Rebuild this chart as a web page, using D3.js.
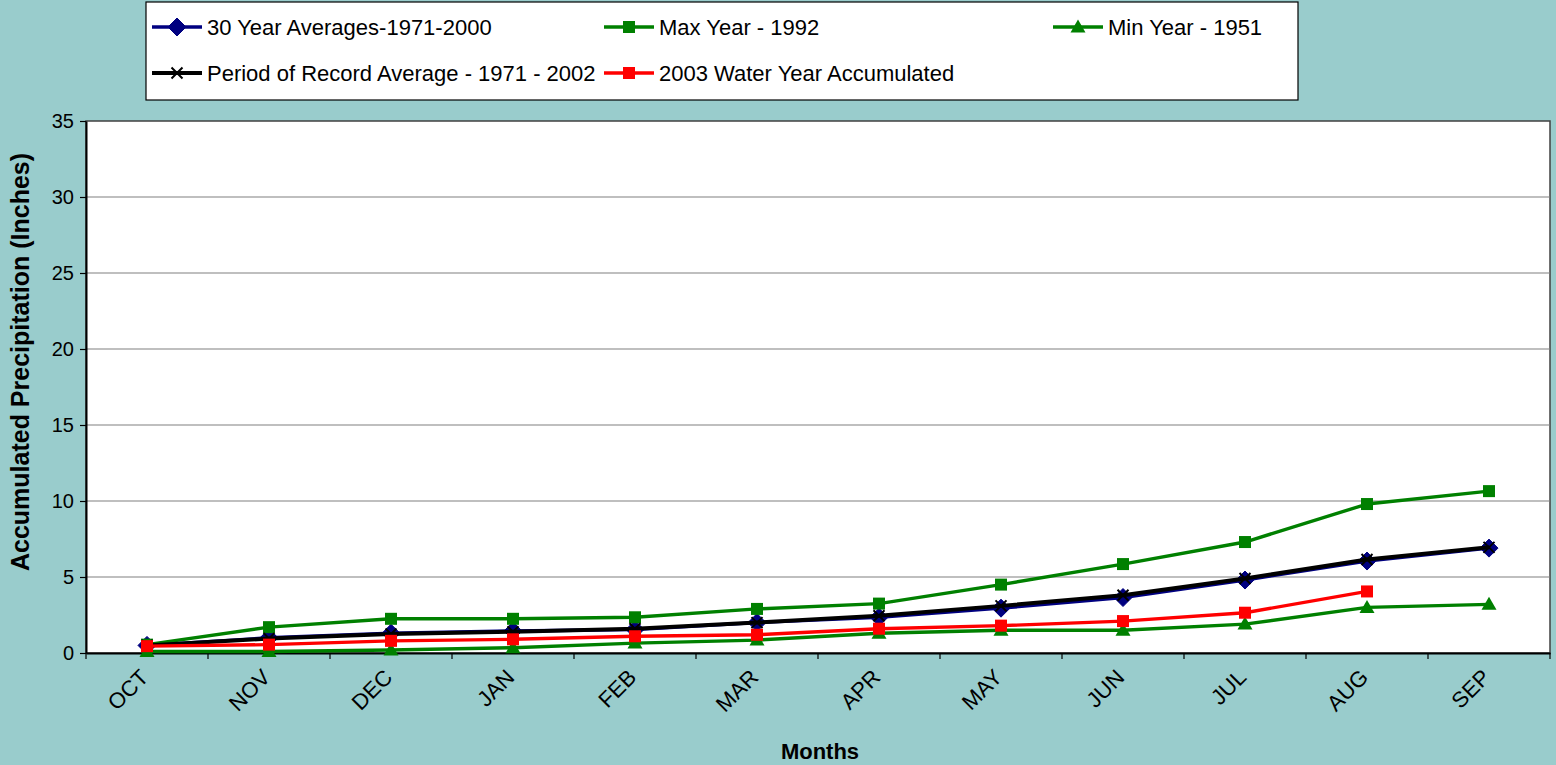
<!DOCTYPE html>
<html><head><meta charset="utf-8">
<script src="https://cdn.jsdelivr.net/npm/d3@7"></script>
<style>body{margin:0;background:#99CCCC;}svg{display:block;font-family:Arial,"Liberation Sans",sans-serif;}</style>
</head><body><svg id="c" width="1556" height="765"></svg>
<script>
const months = ["OCT","NOV","DEC","JAN","FEB","MAR","APR","MAY","JUN","JUL","AUG","SEP"];
const avg30 = [0.5,1.0,1.3,1.45,1.55,2.0,2.35,2.95,3.65,4.8,6.05,6.9];
const max1992 = [0.55,1.7,2.25,2.25,2.35,2.9,3.25,4.5,5.85,7.3,9.8,10.65];
const min1951 = [0.1,0.1,0.2,0.35,0.65,0.85,1.3,1.5,1.5,1.9,3.0,3.2];
const porAvg = [0.5,0.95,1.25,1.4,1.6,2.0,2.45,3.1,3.8,4.9,6.15,6.95];
const wy2003 = [0.45,0.55,0.8,0.9,1.1,1.2,1.6,1.8,2.1,2.65,4.05];
const yTicks = [0,5,10,15,20,25,30,35];

const series = [
  {name:"30 Year Averages-1971-2000", values:avg30, color:"#000080", width:3.4, marker:"diamond"},
  {name:"Max Year - 1992", values:max1992, color:"#008000", width:3.4, marker:"square"},
  {name:"Min Year - 1951", values:min1951, color:"#008000", width:3.4, marker:"triangle"},
  {name:"Period of Record Average - 1971 - 2002", values:porAvg, color:"#000000", width:4, marker:"cross"},
  {name:"2003 Water Year Accumulated", values:wy2003, color:"#FF0000", width:3.4, marker:"square"}
];

const svg = d3.select("#c");
const L=86, T=121, R=1550, B=653;
const x = d3.scaleBand().domain(months).range([L,R]);
const y = d3.scaleLinear().domain([0,35]).range([B,T]);

svg.append("rect").attr("x",L).attr("y",T).attr("width",R-L).attr("height",B-T)
  .attr("fill","#fff").attr("stroke","#404040").attr("stroke-width",1.5);

svg.append("g").selectAll("line").data(yTicks.filter(d=>d>0&&d<35)).join("line")
  .attr("x1",L).attr("x2",R).attr("y1",d=>y(d)).attr("y2",d=>y(d))
  .attr("stroke","#808080").attr("stroke-width",1.2);

const ya = svg.append("g").attr("transform",`translate(${L},0)`)
  .call(d3.axisLeft(y).tickValues(yTicks).tickSize(6).tickSizeOuter(0).tickPadding(6));
ya.select(".domain").attr("stroke","#000").attr("stroke-width",2);
ya.selectAll(".tick line").attr("stroke","#000").attr("stroke-width",1.2);
ya.selectAll(".tick text").attr("font-size",20).attr("fill","#000").attr("font-family","Arial, 'Liberation Sans', sans-serif");

const xa = svg.append("g").attr("transform",`translate(0,${B})`)
  .call(d3.axisBottom(x).tickSize(0).tickSizeOuter(0));
xa.select(".domain").attr("stroke","#000").attr("stroke-width",2);
xa.selectAll(".tick text").remove();
const bounds = months.map(m=>x(m)).concat([R]);
svg.append("g").selectAll("line").data(bounds).join("line")
  .attr("x1",d=>d).attr("x2",d=>d).attr("y1",B).attr("y2",B+6)
  .attr("stroke","#000").attr("stroke-width",1.2);
svg.append("g").selectAll("text").data(months).join("text")
  .attr("transform",d=>`translate(${x(d)+x.bandwidth()/2-9},${B+14}) rotate(-45)`)
  .attr("text-anchor","end").attr("dy","0.75em").attr("font-size",22).attr("fill","#000").text(d=>d);

svg.append("text").attr("transform",`translate(29,362) rotate(-90)`)
  .attr("text-anchor","middle").attr("font-size",25).attr("font-weight","bold").text("Accumulated Precipitation (Inches)");
svg.append("text").attr("x",820).attr("y",759).attr("text-anchor","middle")
  .attr("font-size",22).attr("font-weight","bold").text("Months");

function drawMarker(g, type, color, cx, cy){
  if(type==="diamond"){
    g.append("path").attr("d",`M${cx},${cy-9}L${cx+9},${cy}L${cx},${cy+9}L${cx-9},${cy}Z`).attr("fill",color).attr("stroke",color);
  } else if(type==="square"){
    g.append("rect").attr("x",cx-6).attr("y",cy-6).attr("width",12).attr("height",12).attr("fill",color);
  } else if(type==="triangle"){
    g.append("path").attr("d",`M${cx},${cy-7.5}L${cx+7.5},${cy+5.5}L${cx-7.5},${cy+5.5}Z`).attr("fill",color);
  } else if(type==="cross"){
    g.append("path").attr("d",`M${cx-5.5},${cy-5.5}L${cx+5.5},${cy+5.5}M${cx+5.5},${cy-5.5}L${cx-5.5},${cy+5.5}`).attr("stroke",color).attr("stroke-width",2).attr("fill","none");
  }
}

const line = d3.line().x((d,i)=>x(months[i])+x.bandwidth()/2).y(d=>y(d));
series.forEach(s=>{
  const g = svg.append("g");
  g.append("path").datum(s.values).attr("d",line).attr("fill","none")
    .attr("stroke",s.color).attr("stroke-width",s.width).attr("stroke-linejoin","round");
  s.values.forEach((v,i)=>drawMarker(g,s.marker,s.color,x(months[i])+x.bandwidth()/2,y(v)));
});

const lg = svg.append("g");
lg.append("rect").attr("x",146).attr("y",2).attr("width",1152).attr("height",98)
  .attr("fill","#fff").attr("stroke","#000").attr("stroke-width",1.2);
const pos = [[152,27],[604,27],[1053,27],[152,73],[604,73]];
series.forEach((s,i)=>{
  const [lx,ly]=pos[i];
  const g=lg.append("g");
  g.append("line").attr("x1",lx).attr("x2",lx+50).attr("y1",ly).attr("y2",ly)
    .attr("stroke",s.color).attr("stroke-width",s.width);
  drawMarker(g,s.marker,s.color,lx+25,ly);
  g.append("text").attr("x",lx+55).attr("y",ly).attr("dy","0.35em").attr("font-size",22).text(s.name);
});
</script></body></html>
